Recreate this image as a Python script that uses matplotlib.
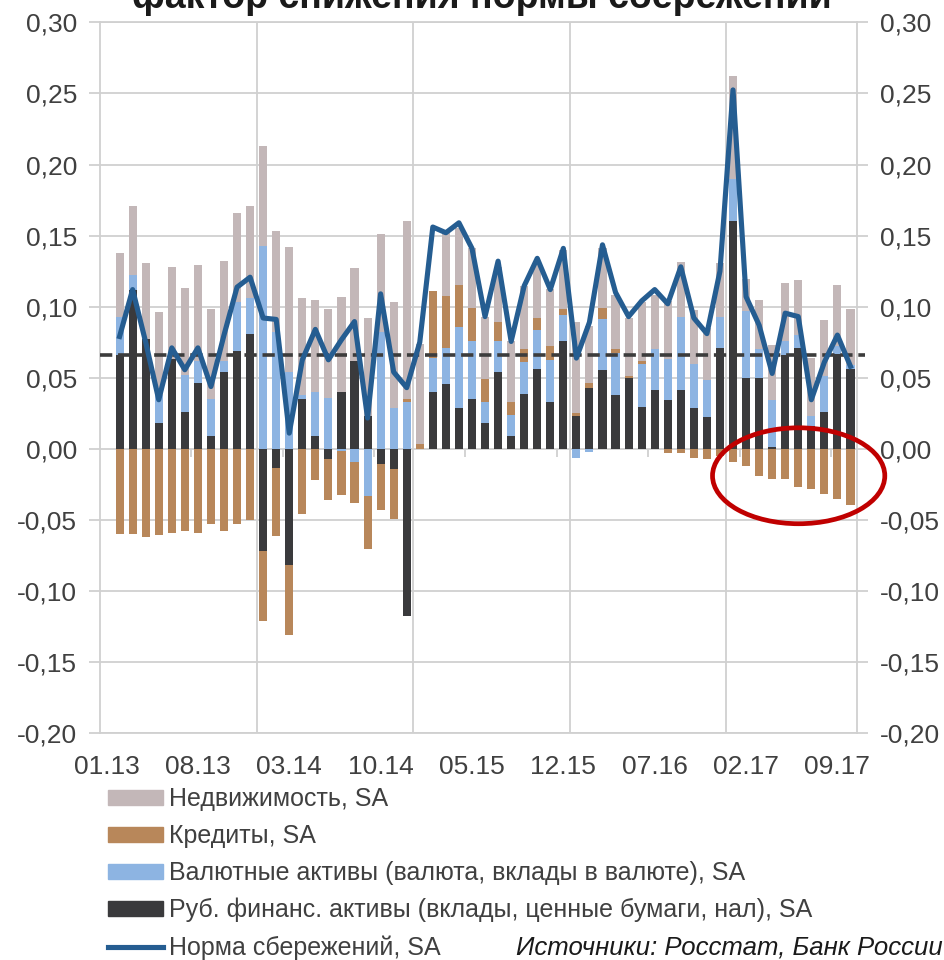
import numpy as np
import pandas as pd
import matplotlib
matplotlib.use('Agg')
import matplotlib.pyplot as plt
from matplotlib.patches import Ellipse, Patch
from matplotlib.lines import Line2D

plt.rcParams['font.family'] = ['Liberation Sans', 'DejaVu Sans']

# categories: 01.13 .. 10.17, bars start at 02.13
months = pd.date_range('2013-01-01', '2017-10-01', freq='MS').strftime('%m.%y').tolist()

# components, 02.13 .. 10.17
ruble = [0.066, 0.112, 0.077, 0.018, 0.063, 0.026, 0.046, 0.009, 0.054, 0.069, 0.081,
         -0.072, -0.0136, -0.082, 0.035, 0.0087, -0.0073, 0.040, 0.062, 0.023, -0.011, -0.014, -0.118,
         0.0, 0.0396, 0.0457, 0.0286, 0.035, 0.018, 0.054, 0.0087, 0.0387, 0.0563, 0.0328, 0.076,
         0.0227, 0.0425, 0.0556, 0.038, 0.050, 0.0293, 0.0415, 0.0345, 0.0415, 0.0286, 0.022, 0.071,
         0.160, 0.0497, 0.0497, 0.001, 0.066, 0.0708, 0.0157, 0.0258, 0.067, 0.056]
fx = [0.027, 0.010, 0.0, 0.020, 0.0, 0.026, 0.016, 0.026, 0.008, 0.034, 0.025,
      0.143, 0.0825, 0.054, 0.0025, 0.031, 0.0354, -0.0016, -0.009, -0.0335, 0.082, 0.0286, 0.033,
      0.0, 0.0242, 0.025, 0.057, 0.041, 0.0146, 0.022, 0.0153, 0.022, 0.027, 0.030, 0.018,
      -0.0066, -0.0023, 0.036, 0.0293, 0.0, 0.0305, 0.029, 0.0285, 0.051, 0.031, 0.0265, 0.022,
      0.030, 0.047, 0.0203, 0.033, 0.0095, 0.0092, 0.0077, 0.0252, 0.005, 0.003]
credit = [-0.060, -0.060, -0.062, -0.061, -0.059, -0.058, -0.059, -0.053, -0.058, -0.053, -0.050,
          -0.049, -0.048, -0.049, -0.0457, -0.022, -0.029, -0.031, -0.029, -0.037, -0.032, -0.0355, 0.002,
          0.003, 0.047, 0.0368, 0.0297, 0.023, 0.0164, 0.0135, 0.009, 0.0096, 0.009, 0.0094, 0.004,
          0.0028, 0.004, 0.0075, 0.003, 0.001, 0.0022, 0.0, -0.003, -0.003, -0.0063, -0.0074, -0.0054,
          -0.0096, -0.0124, -0.0195, -0.0213, -0.0213, -0.027, -0.0284, -0.0317, -0.0354, -0.0394]
realty = [0.045, 0.049, 0.054, 0.058, 0.065, 0.061, 0.067, 0.063, 0.070, 0.063, 0.065,
          0.070, 0.0705, 0.088, 0.0685, 0.065, 0.0626, 0.067, 0.065, 0.069, 0.069, 0.0744, 0.125,
          0.071, 0.0, 0.0441, 0.040, 0.042, 0.044, 0.0385, 0.0425, 0.0443, 0.038, 0.040, 0.042,
          0.0634, 0.040, 0.042, 0.0377, 0.041, 0.041, 0.038, 0.041, 0.0386, 0.038, 0.0365, 0.038,
          0.072, 0.0224, 0.0348, 0.039, 0.041, 0.0388, 0.0404, 0.0397, 0.043, 0.039]
saving_rate = [0.079, 0.112, 0.075, 0.0345, 0.071, 0.0556, 0.071, 0.0438, 0.080, 0.1137, 0.1207,
               0.092, 0.091, 0.011, 0.0625, 0.084, 0.0626, 0.0767, 0.0895, 0.0216, 0.109, 0.054, 0.043,
               0.075, 0.156, 0.152, 0.159, 0.141, 0.093, 0.132, 0.0755, 0.1146, 0.134, 0.112, 0.141,
               0.0638, 0.089, 0.1435, 0.110, 0.093, 0.104, 0.112, 0.102, 0.128, 0.092, 0.081, 0.125,
               0.2525, 0.107, 0.087, 0.053, 0.0954, 0.093, 0.0345, 0.061, 0.080, 0.058]
avg_rate = 0.066

labels = ['Недвижимость, SA', 'Кредиты, SA',
          'Валютные активы (валюта, вклады в валюте), SA',
          'Руб. финанс. активы (вклады, ценные бумаги, нал), SA',
          'Норма сбережений, SA']
colors = ['#C3B7B8', '#B8875A', '#8DB4E2', '#3A3A3C']
line_color = '#255D91'
grid_c = '#D0D0D0'
txt_c = '#404040'

x = np.arange(1, len(months))
fig = plt.figure(figsize=(9.45, 9.6), dpi=100)
ax = fig.add_axes([100/945, 1-733/960, 757/945, (733-22.4)/960])

pos = np.zeros(len(x))
neg = np.zeros(len(x))
for vals, c in zip([ruble, fx, credit, realty], colors[::-1]):
    v = np.array(vals)
    bottom = np.where(v >= 0, pos, neg)
    ax.bar(x, v, width=0.62, bottom=bottom, color=c, zorder=3, linewidth=0)
    pos = pos + np.where(v >= 0, v, 0)
    neg = neg + np.where(v < 0, v, 0)

ax.plot([-0.5, 58.1], [avg_rate, avg_rate], color='#3C3C3C', lw=2.6, ls=(0, (3.4, 1.6)),
        zorder=4, clip_on=False)
ax.plot(x, saving_rate, color=line_color, lw=3.7, zorder=5, solid_joinstyle='round')

ax.add_patch(Ellipse((53.03, -0.019), 13.2, 0.0675, fill=False, edgecolor='#C00000',
                     lw=3.4, zorder=6, clip_on=False))

ax.set_xlim(-0.5, 57.5)
ax.set_ylim(-0.2, 0.3)
yt = np.arange(-0.2, 0.301, 0.05)
ax.set_yticks(yt)
ax.set_yticklabels([f'{t:.2f}'.replace('.', ',').replace('-0,00', '0,00') for t in yt])
ax.yaxis.grid(True, color=grid_c, lw=1.3, zorder=0)
for b in [11.5, 23.5, 35.5, 47.5]:
    ax.axvline(b, color=grid_c, lw=1.3, zorder=0)
# category axis ticks on zero line
ax.vlines(np.arange(6.5, 57, 7), -0.0055, 0, color=grid_c, lw=1.3, zorder=1)
ax.set_xticks(np.arange(0, 58, 7))
ax.set_xticklabels(months[::7])
ax.tick_params(axis='x', length=0, pad=16, labelsize=19, labelcolor=txt_c)
ax.tick_params(axis='y', length=8, color=grid_c, width=1.3, pad=8.5, labelsize=19,
               labelcolor=txt_c, right=True, labelright=True)
for s in ax.spines.values():
    s.set_color(grid_c)
    s.set_linewidth(1.3)

fig.text(482/945, 1-8/960, 'фактор снижения нормы сбережений', ha='center', va='baseline',
         fontsize=27, fontweight='bold', color='#1A1A1A')

handles = [Patch(color=colors[0]), Patch(color=colors[1]), Patch(color=colors[2]),
           Patch(color=colors[3]), Line2D([], [], color=line_color, lw=3.7)]
fig.legend(handles, labels, loc='upper left', bbox_to_anchor=(108/945, 1-787/960),
           frameon=False, fontsize=18, handlelength=2.2, handleheight=0.55,
           handletextpad=0.25, labelspacing=0.52, borderpad=0, borderaxespad=0,
           labelcolor=txt_c)
fig.text(516/945, 1-955/960, 'Источники: Росстат, Банк России', fontsize=18.5,
         style='italic', color='#1A1A1A', ha='left', va='baseline')

fig.savefig('out.png', dpi=100)
